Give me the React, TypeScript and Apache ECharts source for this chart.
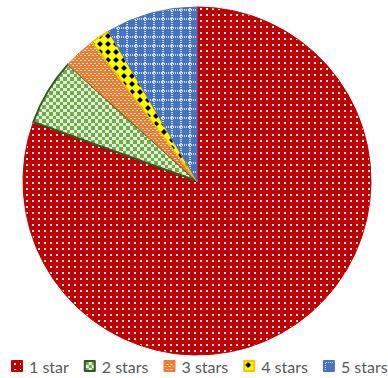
import React, { useEffect, useRef } from "react";
import * as echarts from "echarts";

const categories = ["1 star", "2 stars", "3 stars", "4 stars", "5 stars"];
const values = [80.5, 6.2, 3.0, 1.8, 8.5];

function tile(w: number, h: number, draw: (ctx: CanvasRenderingContext2D) => void) {
  const c = document.createElement("canvas");
  c.width = w;
  c.height = h;
  const ctx = c.getContext("2d")!;
  draw(ctx);
  return c;
}

function makePatterns() {
  const red = tile(6, 6, (ctx) => {
    ctx.fillStyle = "#C00000";
    ctx.fillRect(0, 0, 6, 6);
    ctx.fillStyle = "#FFF2F2";
    ctx.fillRect(2, 2, 2, 2);
  });
  const green = tile(7, 7, (ctx) => {
    ctx.fillStyle = "#E2EFDA";
    ctx.fillRect(0, 0, 7, 7);
    ctx.fillStyle = "#70AD47";
    ctx.fillRect(0, 0, 4, 4);
    ctx.fillRect(4, 4, 3, 3);
  });
  const orange = tile(4, 5, (ctx) => {
    ctx.fillStyle = "#ED7D31";
    ctx.fillRect(0, 0, 4, 5);
    ctx.fillStyle = "#FBE2D2";
    ctx.fillRect(0, 0, 2, 1);
    ctx.fillRect(2, 3, 2, 1);
  });
  const yellow = tile(8, 8, (ctx) => {
    ctx.fillStyle = "#FFFF00";
    ctx.fillRect(0, 0, 8, 8);
    ctx.fillStyle = "#000000";
    ctx.beginPath();
    ctx.moveTo(4, 1);
    ctx.lineTo(7, 4);
    ctx.lineTo(4, 7);
    ctx.lineTo(1, 4);
    ctx.closePath();
    ctx.fill();
  });
  const blue = tile(9, 9, (ctx) => {
    ctx.fillStyle = "#4472C4";
    ctx.fillRect(0, 0, 9, 9);
    ctx.fillStyle = "#D0DCF0";
    for (let i = 0; i < 9; i += 2) {
      ctx.fillRect(i, 0, 1, 2);
      ctx.fillRect(0, i, 2, 1);
    }
  });
  return { red, green, orange, yellow, blue };
}

export default function App() {
  const ref = useRef<HTMLDivElement>(null);
  useEffect(() => {
    document.body.style.margin = "0";
    const chart = echarts.init(ref.current!, null, { renderer: "svg" });
    const p = makePatterns();
    const pat = (img: HTMLCanvasElement) => ({ image: img, repeat: "repeat" });
    const styles = [
      { color: pat(p.red), borderColor: "#C00000", borderWidth: 1 },
      { color: pat(p.green), borderColor: "#375623", borderWidth: 2 },
      { color: pat(p.orange), borderColor: "#ED7D31", borderWidth: 1 },
      { color: pat(p.yellow), borderColor: "#FFC000", borderWidth: 1.5 },
      { color: pat(p.blue), borderColor: "#4472C4", borderWidth: 1 },
    ];
    chart.setOption({
      animation: false,
      backgroundColor: "#FFFFFF",
      legend: {
        orient: "horizontal",
        left: 11,
        top: 358,
        width: 700,
        padding: 0,
        itemWidth: 10,
        itemHeight: 10,
        itemGap: 15,
        icon: "rect",
        textStyle: {
          fontFamily: "Lato",
          fontSize: 16,
          color: "#595959",
          padding: [0, 0, 0, 2],
        },
        data: categories,
      },
      series: [
        {
          type: "pie",
          center: [197, 181],
          radius: 174,
          startAngle: 90,
          clockwise: true,
          label: { show: false },
          labelLine: { show: false },
          emphasis: { disabled: true },
          data: categories.map((name, i) => ({
            name,
            value: values[i],
            itemStyle: styles[i],
          })),
        },
      ],
    });
    return () => chart.dispose();
  }, []);
  return <div ref={ref} style={{ width: 388, height: 378 }} />;
}
